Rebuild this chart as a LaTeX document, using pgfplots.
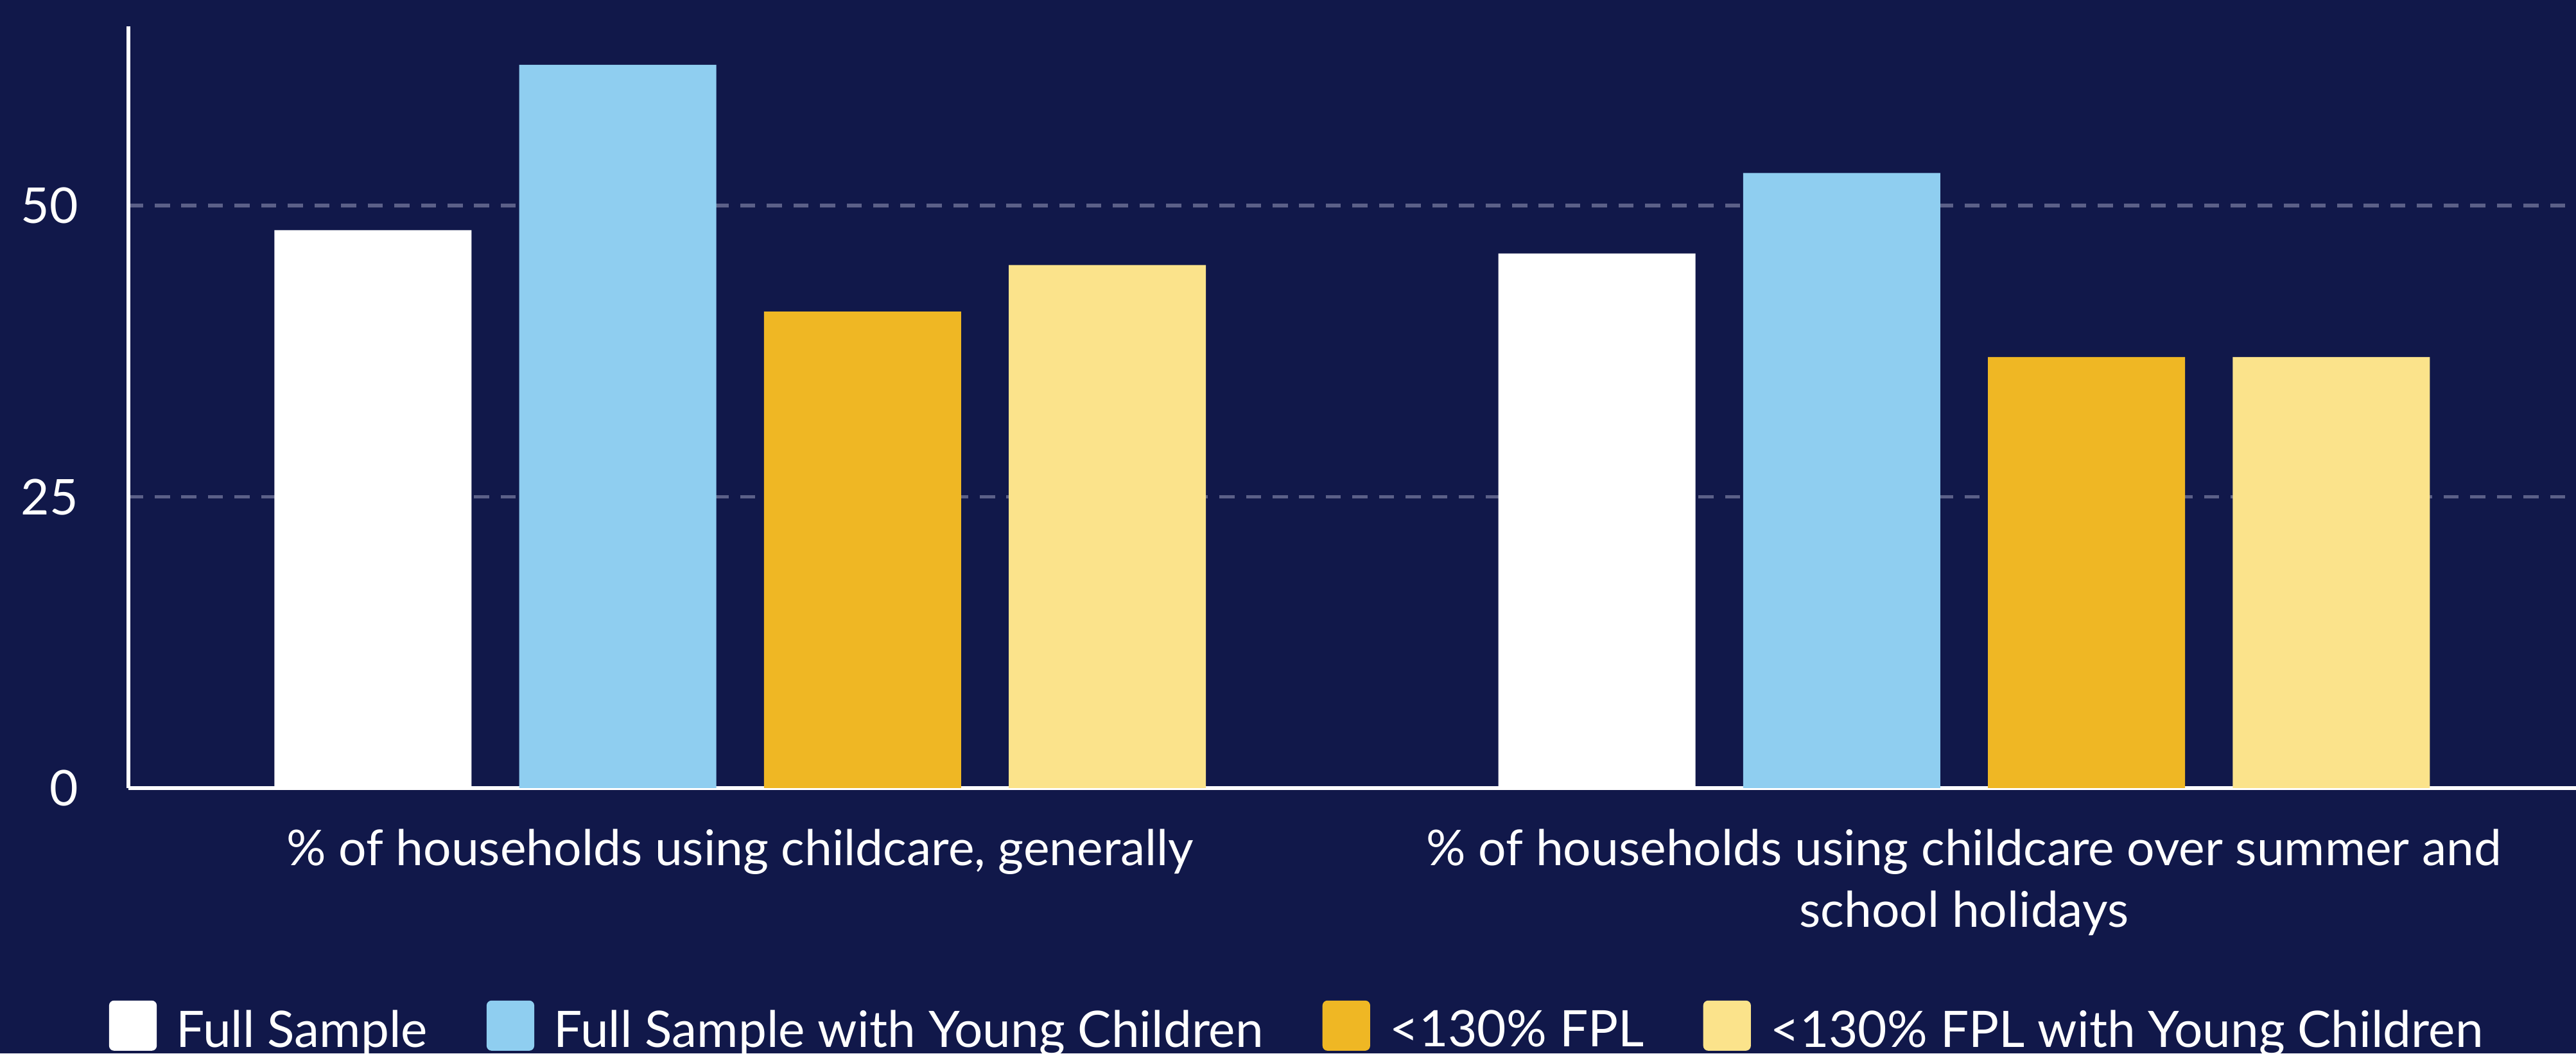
\documentclass[border=0pt]{standalone}
\usepackage{fontspec}
\setmainfont{Lato}
\usepackage{pgfplots}
\pgfplotsset{compat=1.18}
\definecolor{bg}{HTML}{11184A}
\definecolor{cwhite}{HTML}{FFFFFF}
\definecolor{cblue}{HTML}{8FCEF0}
\definecolor{cgold}{HTML}{EFB724}
\definecolor{cyellow}{HTML}{FBE38B}
\definecolor{gridc}{HTML}{5B6088}
\pgfplotsset{
  sqlegend/.style={legend image code/.code={\path[fill, draw=none, rounded corners=1.5pt] (0pt,-6pt) rectangle (14.5pt,9.25pt);}}
}
\begin{document}
\begin{tikzpicture}
\fill[bg] (0,0) rectangle (784pt,320.5pt);
\useasboundingbox (0,0) rectangle (784pt,320.5pt);
\begin{axis}[
  at={(39pt,80.75pt)}, anchor=south west,
  scale only axis, width=745pt, height=231.75pt,
  xmin=-0.5, xmax=1.5, ymin=0, ymax=65.4,
  axis x line=bottom, axis y line=left,
  axis line style={white, line width=1.2pt, -},
  xtick={0,1}, ytick={0,25,50},
  xticklabels={{\% of households using childcare, generally},{\% of households using childcare over summer and\\school holidays}},
  major tick length=0pt,
  ymajorgrids,
  grid style={gridc, line width=1.15pt, dash pattern=on 4.6pt off 3.5pt},
  /pgf/number format/assume math mode=true,
  xticklabel style={font=\fontsize{15}{18.8}\selectfont, text=white, align=center, anchor=north, yshift=-9pt},
  yticklabel style={font=\fontsize{15}{18}\selectfont, text=white, anchor=east, xshift=-11.7pt},
  ybar, bar width=0.161,
  legend columns=4,
  legend style={at={(axis description cs:0.4785,-0.3171)}, anchor=center, draw=none, fill=none,
    text=white, font=\fontsize{15.3}{18}\selectfont,
    /tikz/every odd column/.append style={column sep=4pt},
    /tikz/every even column/.append style={column sep=16pt}},
  legend cell align=left,
]
\addplot[fill=cwhite, draw=none, bar shift=-0.3, sqlegend] coordinates {(0,47.9) (1,45.9)};
\addplot[fill=cblue, draw=none, bar shift=-0.1, sqlegend] coordinates {(0,62.1) (1,52.8)};
\addplot[fill=cgold, draw=none, bar shift=0.1, sqlegend] coordinates {(0,40.9) (1,37.0)};
\addplot[fill=cyellow, draw=none, bar shift=0.3, sqlegend] coordinates {(0,44.9) (1,37.0)};
\legend{Full Sample, Full Sample with Young Children, <130\% FPL, <130\% FPL with Young Children}
\end{axis}
\end{tikzpicture}
\end{document}
